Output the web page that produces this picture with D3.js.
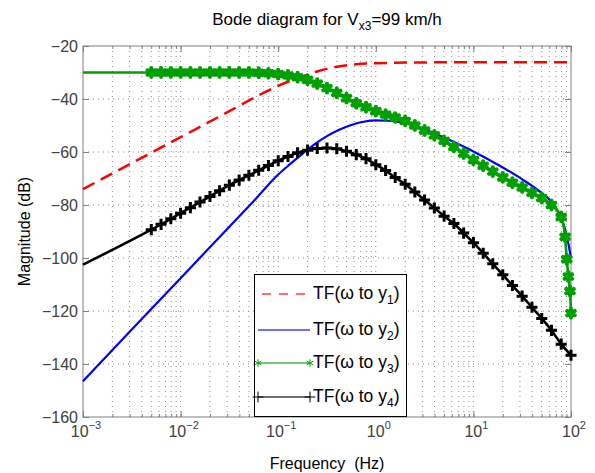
<!DOCTYPE html>
<html>
<head>
<meta charset="utf-8">
<script src="https://cdn.jsdelivr.net/npm/d3@7"></script>
<style>
  body { margin: 0; background: #fff; }
  svg { font-family: "Liberation Sans", Arial, sans-serif; }
</style>
</head>
<body>
<div id="wrapper"></div>
<script>
// y1: red dashed
const freqY1 = [0.001, 0.00316, 0.01, 0.0316, 0.0562, 0.1, 0.158, 0.251, 0.398, 0.631, 1, 3.16, 10, 100];
const magY1 = [-74, -64.2, -54.4, -44.6, -39.6, -35, -32.2, -29.6, -27.8, -26.9, -26.5, -26.2, -26.1, -26.1];

// y2: blue
const freqY2 = [0.001, 0.00316, 0.01, 0.0316, 0.0562, 0.1, 0.133, 0.178, 0.237, 0.316, 0.422, 0.562, 0.75, 1, 1.33, 1.78, 3.16, 5.62, 10, 17.8, 31.6, 50.1, 63.1, 79.4, 89.1, 100];
const magY2 = [-146.5, -127, -107.6, -88.2, -78.5, -68.5, -64.5, -60.6, -57.0, -54.0, -51.6, -49.8, -48.6, -48.1, -48.2, -48.7, -51.4, -55.4, -59.8, -64.8, -70.3, -75.5, -78.8, -85, -90.5, -100];

// marker frequencies for y3 / y4 (first value is the unmarked start)
const freqMarked = [0.001,
  0.00501, 0.00631, 0.00794, 0.01, 0.0126, 0.0158, 0.02, 0.0251, 0.0316, 0.0398,
  0.0501, 0.0631, 0.0794, 0.1, 0.126, 0.158, 0.2, 0.251, 0.316, 0.398,
  0.501, 0.631, 0.794, 1, 1.26, 1.58, 2, 2.51, 3.16, 3.98,
  5.01, 6.31, 7.94, 10, 12.6, 15.8, 20, 25.1, 31.6, 39.8,
  50.1, 63.1, 79.4];

// y3: green with * markers
const freqY3Tail = [87, 90.5, 94, 97.7, 100];
const magY3 = [-30,
  -30, -30, -30, -30, -30, -30, -30, -30, -30, -30,
  -30, -30.1, -30.3, -30.6, -31.1, -31.8, -32.8, -34.2, -35.9, -37.7,
  -39.7, -41.6, -43.1, -44.6, -45.9, -47.0, -48.3, -50.0, -51.9, -53.7,
  -55.8, -58.1, -60.6, -63.0, -65.2, -67.4, -69.6, -71.6, -73.4, -75.4,
  -77.4, -80.0, -84.5];
const magY3Tail = [-92, -100.5, -107, -112.5, -120.8];

// y4: black with + markers
const freqY4Tail = [100];
const magY4 = [-102.5,
  -89.3, -87.3, -85.2, -83.1, -81.0, -78.9, -76.8, -74.6, -72.5, -70.6,
  -68.8, -66.9, -65.1, -63.3, -61.7, -60.3, -59.3, -58.7, -58.5, -58.8,
  -59.7, -61.0, -62.5, -64.8, -67.0, -69.6, -72.2, -75.1, -78.1, -81.1,
  -84.2, -87.0, -90.6, -94.2, -98.2, -102.2, -106.3, -110.4, -114.4, -118.6,
  -122.8, -127.3, -132.5];
const magY4Tail = [-136.7];

const yTicks = [-160, -140, -120, -100, -80, -60, -40, -20];
const xDecades = [1e-3, 1e-2, 1e-1, 1e0, 1e1, 1e2];
const xExponents = ["\u22123", "\u22122", "\u22121", "0", "1", "2"];
const legendLabels = ["1", "2", "3", "4"];

const zip = (fs, ms) => fs.map((f, i) => ({ f: f, m: ms[i] }));

const series = [
  { name: "y1", data: zip(freqY1, magY1), color: "#ff0000", width: 2.5, dash: "13,7", marker: null },
  { name: "y2", data: zip(freqY2, magY2), color: "#0000ff", width: 2.2, dash: null, marker: null },
  { name: "y3", data: zip(freqMarked.concat(freqY3Tail), magY3.concat(magY3Tail)), color: "#00a000", width: 2.6, dash: null, marker: "star" },
  { name: "y4", data: zip(freqMarked.concat(freqY4Tail), magY4.concat(magY4Tail)), color: "#000000", width: 2.6, dash: null, marker: "plus" },
];

const dimensions = {
  width: 595,
  height: 473,
  margin: { top: 46, right: 24, bottom: 56, left: 83 },
};
dimensions.boundedWidth = dimensions.width - dimensions.margin.left - dimensions.margin.right;
dimensions.boundedHeight = dimensions.height - dimensions.margin.top - dimensions.margin.bottom;

const axisGrey = "#808080";
const labelGrey = "#404040";

const wrapper = d3.select("#wrapper")
  .append("svg")
  .attr("width", dimensions.width)
  .attr("height", dimensions.height);

const bounds = wrapper.append("g")
  .attr("transform", `translate(${dimensions.margin.left},${dimensions.margin.top})`);

const xScale = d3.scaleLog().domain([1e-3, 1e2]).range([0, dimensions.boundedWidth]);
const yScale = d3.scaleLinear().domain([-160, -20]).range([dimensions.boundedHeight, 0]);

// grid
const xMinor = xScale.ticks().filter((d) => d > 1e-3 && d < 1e2);
bounds.append("g")
  .selectAll("line")
  .data(xMinor)
  .join("line")
  .attr("x1", (d) => xScale(d))
  .attr("x2", (d) => xScale(d))
  .attr("y1", 0)
  .attr("y2", dimensions.boundedHeight)
  .attr("stroke", "#8c8c8c")
  .attr("stroke-width", 1)
  .attr("stroke-dasharray", "1,4");

bounds.append("g")
  .selectAll("line")
  .data(yTicks.filter((d) => d > -160 && d < -20))
  .join("line")
  .attr("x1", 0)
  .attr("x2", dimensions.boundedWidth)
  .attr("y1", (d) => yScale(d))
  .attr("y2", (d) => yScale(d))
  .attr("stroke", "#8c8c8c")
  .attr("stroke-width", 1)
  .attr("stroke-dasharray", "1,4");

// axes (ticks inside, box all round)
const styleAxis = (g) => {
  g.select(".domain").remove();
  g.selectAll(".tick line").attr("stroke", axisGrey);
};

bounds.append("g")
  .attr("transform", `translate(0,${dimensions.boundedHeight})`)
  .call(d3.axisBottom(xScale).tickValues(xMinor).tickSize(-3).tickFormat(""))
  .call(styleAxis);
bounds.append("g")
  .call(d3.axisTop(xScale).tickValues(xMinor).tickSize(-3).tickFormat(""))
  .call(styleAxis);
bounds.append("g")
  .attr("transform", `translate(0,${dimensions.boundedHeight})`)
  .call(d3.axisBottom(xScale).tickValues(xDecades).tickSize(-6).tickFormat(""))
  .call(styleAxis);
bounds.append("g")
  .call(d3.axisTop(xScale).tickValues(xDecades).tickSize(-6).tickFormat(""))
  .call(styleAxis);

const yAxis = bounds.append("g")
  .call(d3.axisLeft(yScale).tickValues(yTicks).tickSize(-6).tickPadding(5))
  .call(styleAxis);
yAxis.selectAll("text")
  .attr("fill", labelGrey)
  .style("font-size", "16px")
  .style("font-family", "'Liberation Sans', Arial, sans-serif");

bounds.append("g")
  .attr("transform", `translate(${dimensions.boundedWidth},0)`)
  .call(d3.axisRight(yScale).tickValues(yTicks).tickSize(-6).tickFormat(""))
  .call(styleAxis);

bounds.append("rect")
  .attr("width", dimensions.boundedWidth)
  .attr("height", dimensions.boundedHeight)
  .attr("fill", "none")
  .attr("stroke", axisGrey)
  .attr("stroke-width", 1);

// x tick labels 10^n
const xLabels = bounds.append("g")
  .selectAll("text")
  .data(xDecades)
  .join("text")
  .attr("x", (d) => xScale(d) + 3)
  .attr("y", dimensions.boundedHeight + 20)
  .attr("text-anchor", "middle")
  .attr("fill", labelGrey)
  .style("font-size", "16px");
xLabels.append("tspan").text("10");
xLabels.append("tspan")
  .attr("dy", -8)
  .style("font-size", "11px")
  .text((d, i) => xExponents[i]);

// curves
const lineGenerator = d3.line()
  .x((d) => xScale(d.f))
  .y((d) => yScale(d.m))
  .curve(d3.curveMonotoneX);

series.forEach((s) => {
  bounds.append("path")
    .datum(s.data)
    .attr("d", lineGenerator)
    .attr("fill", "none")
    .attr("stroke", s.color)
    .attr("stroke-width", s.width)
    .attr("stroke-dasharray", s.dash)
    .attr("stroke-linejoin", "round");
});

// the thick "*" markers read as round blobs in the original
const starSymbol = d3.symbol().type(d3.symbolAsterisk).size(52);
const plusSymbol = d3.symbol().type(d3.symbolPlus).size(42);

series.filter((s) => s.marker).forEach((s) => {
  bounds.append("g")
    .selectAll("path")
    .data(s.data.slice(1))
    .join("path")
    .attr("transform", (d) => `translate(${xScale(d.f)},${yScale(d.m)})`)
    .attr("d", s.marker === "star" ? starSymbol : plusSymbol)
    .attr("fill", "none")
    .attr("stroke", s.color)
    .attr("stroke-linecap", s.marker === "star" ? "round" : "butt")
    .attr("stroke-width", s.marker === "star" ? 4.2 : 3);
});

// legend
const legend = wrapper.append("g");
legend.append("rect")
  .attr("x", 254.5)
  .attr("y", 274.5)
  .attr("width", 152)
  .attr("height", 142)
  .attr("fill", "#fff")
  .attr("stroke", "#000")
  .attr("stroke-width", 1);

const legendRows = [294, 330, 363, 397];
series.forEach((s, i) => {
  const y = legendRows[i];
  legend.append("line")
    .attr("x1", s.dash ? 262 : 258)
    .attr("x2", 310)
    .attr("y1", y)
    .attr("y2", y)
    .attr("stroke", s.color)
    .attr("stroke-opacity", 0.75)
    .attr("stroke-width", 1.5)
    .attr("stroke-dasharray", s.dash ? "9,8" : null);
  if (s.marker) {
    [258, 310].forEach((x) => {
      legend.append("path")
        .attr("transform", `translate(${x},${y})`)
        .attr("d", s.marker === "star" ? d3.symbol().type(d3.symbolAsterisk).size(40) : d3.symbol().type(d3.symbolPlus).size(40))
        .attr("fill", "none")
        .attr("stroke", s.color)
        .attr("stroke-width", 1);
    });
  }
  const t = legend.append("text")
    .attr("x", 313)
    .attr("y", y + 5)
    .attr("fill", "#000")
    .style("font-size", "17.5px");
  t.append("tspan").text("TF(\u03c9 to y");
  t.append("tspan").attr("dy", 5).style("font-size", "12px").text(legendLabels[i]);
  t.append("tspan").attr("dy", -5).text(")");
});

// title and axis labels
const title = wrapper.append("text")
  .attr("x", dimensions.margin.left + dimensions.boundedWidth / 2)
  .attr("y", 25)
  .attr("text-anchor", "middle")
  .attr("fill", "#000")
  .style("font-size", "17px");
title.append("tspan").text("Bode diagram for V");
title.append("tspan").attr("dy", 5).style("font-size", "12px").text("x3");
title.append("tspan").attr("dy", -5).text("=99 km/h");

wrapper.append("text")
  .attr("x", dimensions.margin.left + dimensions.boundedWidth / 2)
  .attr("y", 469)
  .attr("text-anchor", "middle")
  .attr("fill", "#000")
  .style("font-size", "16px")
  .style("white-space", "pre")
  .text("Frequency  (Hz)");

wrapper.append("text")
  .attr("transform", `translate(30,${dimensions.margin.top + dimensions.boundedHeight / 2}) rotate(-90)`)
  .attr("text-anchor", "middle")
  .attr("fill", "#000")
  .style("font-size", "16px")
  .text("Magnitude (dB)");
</script>
</body>
</html>
